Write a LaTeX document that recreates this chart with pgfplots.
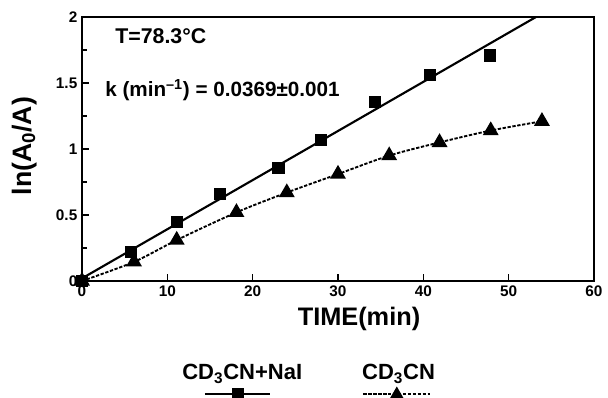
\documentclass[border=0pt]{standalone}
\usepackage{pgfplots}
\pgfplotsset{compat=1.18}
\usepackage{fontspec}
\setmainfont{Liberation Sans}
\pgfplotsset{
  legA/.style={legend image code/.code={\draw[overlay,##1,mark repeat=2,mark phase=2] plot coordinates {(17pt,-16pt) (42pt,-16pt) (66pt,-16pt)};}},
  legB/.style={legend image code/.code={\draw[overlay,##1,mark repeat=2,mark phase=2] plot coordinates {(1pt,-16pt) (26pt,-16pt) (51pt,-16pt)};}},
}
\pgfplotstableread{
x y
0 0
5.7 0.22
11.1 0.45
16.1 0.66
23.0 0.86
28.0 1.07
34.3 1.36
40.8 1.56
47.8 1.71
}\nai
\pgfplotstableread{
x y
0 0
6.1 0.145
11.1 0.31
18.1 0.52
24.0 0.67
30.0 0.81
36.0 0.95
41.9 1.05
47.9 1.14
53.9 1.21
}\pure
\pgfplotstableread{
x y
0 0.02
53.2 2
}\fit
\begin{document}
\begin{tikzpicture}
\begin{axis}[
  scale only axis,
  width=384pt, height=198pt,
  xmin=0, xmax=60, ymin=0, ymax=2,
  xtick={0,10,...,60},
  ytick={0,0.5,1,1.5,2},
  yticklabels={0,0.5,1,1.5,2},
  minor ytick={0.25,0.75,1.25,1.75},
  tick align=inside,
  xtick pos=bottom, ytick pos=left,
  major tick length=5pt, minor tick length=4pt,
  axis line style={line width=1.4pt},
  every tick/.style={line width=1.2pt, black},
  /pgf/number format/assume math mode=true,
  ticklabel style={font=\bfseries\fontsize{11.5}{12}\selectfont},
  xlabel={\bfseries TIME(min)},
  ylabel={\bfseries ln(A\textsubscript{0}/A)},
  xlabel style={font=\fontsize{19}{20}\selectfont, at={(axis description cs:0.541,-0.144)}, anchor=center},
  ylabel style={font=\fontsize{20}{21}\selectfont, at={(axis description cs:-0.113,0.511)}, anchor=center, rotate=0},
  clip=false,
  legend style={draw=none, fill=none, inner sep=0pt, at={(axis cs:11.72,-0.697)}, anchor=west,
    font=\bfseries\fontsize{16.5}{17}\selectfont,
    /tikz/every even column/.append style={column sep=45pt},
    nodes={inner sep=0pt}},
  legend columns=2,
  legend cell align=left,
]
\addplot[black, line width=1.6pt, forget plot] table[x=x,y=y] {\fit};
\addplot[only marks, mark=square*, mark size=4.2pt, black, forget plot] table[x=x,y=y] {\nai};
\addplot[black, line width=1.4pt, dash pattern=on 2.5pt off 1.2pt, smooth, mark=triangle*, mark size=5.5pt, mark options={solid}, forget plot] table[x=x,y=y] {\pure};
\addlegendimage{black, line width=1.6pt, mark=square*, mark size=3.8pt, legA}
\addlegendentry{CD\textsubscript{3}CN+NaI}
\addlegendimage{black, line width=1.4pt, dash pattern=on 2.5pt off 1.2pt, mark=triangle*, mark size=4.5pt, mark options={solid}, legB}
\addlegendentry{CD\textsubscript{3}CN}
\node[anchor=west, inner sep=0pt, font=\bfseries\fontsize{16}{17}\selectfont] at (axis cs:3.87,1.856) {T=78.3°C};
\node[anchor=west, inner sep=0pt, font=\bfseries\fontsize{15.5}{16}\selectfont] at (axis cs:2.7,1.447) {k (min\textsuperscript{–1}) = 0.0369±0.001};
\coordinate (sw) at (rel axis cs:0,0);
\coordinate (ne) at (rel axis cs:1,1);
\end{axis}
\pgfresetboundingbox
\path ([shift={(-61.5pt,-87pt)}]sw) rectangle ([shift={(10.5pt,12.75pt)}]ne);
\end{tikzpicture}
\end{document}
